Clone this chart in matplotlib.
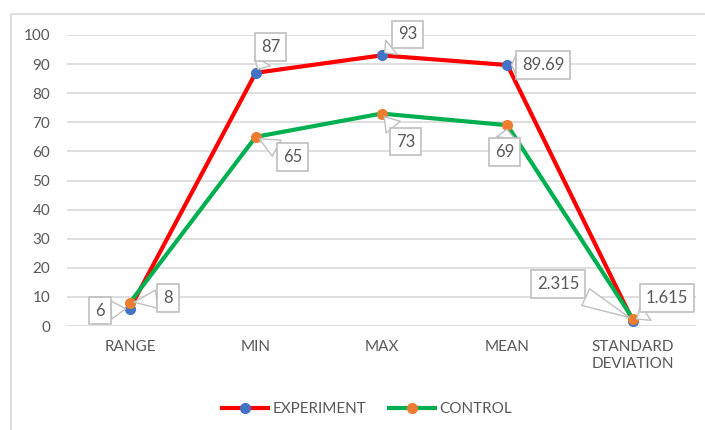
import matplotlib.pyplot as plt
from matplotlib.patches import Rectangle

# — Data —
categories = ["RANGE", "MIN", "MAX", "MEAN", "STANDARD\nDEVIATION"]
experiment = [6, 87, 93, 89.69, 1.615]
control = [8, 65, 73, 69, 2.315]
exp_labels = ["6", "87", "93", "89.69", "1.615"]
ctrl_labels = ["8", "65", "73", "69", "2.315"]

# callout offsets in pixels (dx, dy) from each point
exp_offsets = [(-30, -2), (15, 26), (26, 21), (36, 0), (34, 23)]
ctrl_offsets = [(38, 5), (37, -20), (24, -28), (-3, -27), (-75, 35)]

plt.rcParams["font.family"] = ["Lato", "DejaVu Sans"]
grey = "#595959"

fig = plt.figure(figsize=(7.05, 4.30), dpi=100)
ax = fig.add_axes([67 / 705, 1 - 326 / 430, 629 / 705, 291 / 430])

# outer chart border
fig.patches.append(Rectangle((11 / 705, -0.02), 1.0, 1 - 14 / 430 + 0.02,
                             transform=fig.transFigure, fill=False,
                             ec="#d9d9d9", lw=1.2))

x = list(range(len(categories)))
ax.plot(x, experiment, color="#ff0000", lw=3, marker="o", ms=7,
        mfc="#4472c4", mec="#4472c4", label="EXPERIMENT", zorder=3,
        solid_joinstyle="round")
ax.plot(x, control, color="#00b050", lw=3, marker="o", ms=7,
        mfc="#ed7d31", mec="#ed7d31", label="CONTROL", zorder=4,
        solid_joinstyle="round")

def callout(xi, yi, text, off):
    ax.annotate(text, xy=(xi, yi), xytext=off, textcoords="offset pixels",
                ha="center", va="center", fontsize=12, color=grey, zorder=6,
                bbox=dict(boxstyle="square,pad=0.35", fc="white", ec="#bfbfbf", lw=1.2),
                arrowprops=dict(arrowstyle="wedge,tail_width=1.1", fc="white",
                                ec="#bfbfbf", lw=1.0, shrinkA=0, shrinkB=3))

for xi, yi, t, o in zip(x, experiment, exp_labels, exp_offsets):
    callout(xi, yi, t, o)
for xi, yi, t, o in zip(x, control, ctrl_labels, ctrl_offsets):
    callout(xi, yi, t, o)

ax.set_xlim(-0.5, len(categories) - 0.5)
ax.set_ylim(0, 100)
ax.set_yticks(range(0, 101, 10))
ax.set_xticks(x)
ax.set_xticklabels(categories, linespacing=1.3)
ax.grid(axis="y", color="#d9d9d9", lw=1.2)
ax.set_axisbelow(True)
for s in ax.spines.values():
    s.set_visible(False)
ax.tick_params(axis="both", length=0, labelsize=11, colors=grey)
ax.tick_params(axis="y", pad=12)
ax.tick_params(axis="x", pad=10)

fig.legend(loc="center", bbox_to_anchor=(367 / 705, 1 - 409 / 430), ncol=2,
           frameon=False, fontsize=11, labelcolor=grey, handlelength=3,
           columnspacing=1.5, handletextpad=0.3)

fig.savefig("out.png", dpi=100)
